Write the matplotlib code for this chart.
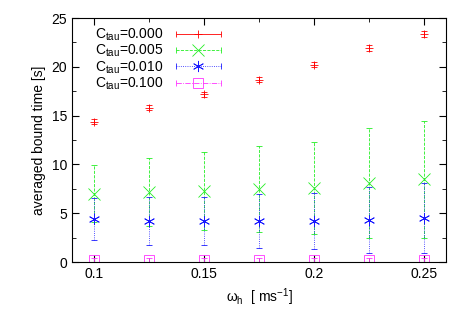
import numpy as np
import matplotlib
matplotlib.use("Agg")
from matplotlib import pyplot as plt
from matplotlib.ticker import MultipleLocator
from matplotlib.legend_handler import HandlerErrorbar

plt.rcParams['font.family'] = ['Liberation Sans', 'DejaVu Sans']
plt.rcParams['mathtext.fontset'] = 'custom'
plt.rcParams['mathtext.rm'] = 'Liberation Sans'
plt.rcParams['mathtext.it'] = 'Liberation Sans'

omega = [0.1, 0.125, 0.15, 0.175, 0.2, 0.225, 0.25]

t_000 = [14.4, 15.8, 17.2, 18.7, 20.2, 21.9, 23.4]
e_000 = [0.25, 0.25, 0.25, 0.25, 0.25, 0.3, 0.3]

t_005 = [7.0, 7.2, 7.3, 7.45, 7.6, 8.1, 8.5]
e_005 = [2.9, 3.5, 4.0, 4.4, 4.7, 5.6, 6.0]

t_010 = [4.45, 4.25, 4.25, 4.2, 4.2, 4.3, 4.5]
e_010 = [2.15, 2.45, 2.45, 2.8, 2.85, 3.35, 3.6]

t_100 = [0.2, 0.2, 0.2, 0.2, 0.2, 0.2, 0.2]
e_100 = [0.2, 0.2, 0.2, 0.2, 0.2, 0.2, 0.2]

labels = ['C$_{tau}$=0.000', 'C$_{tau}$=0.005', 'C$_{tau}$=0.010', 'C$_{tau}$=0.100']

fig = plt.figure(figsize=(4.69, 3.28), dpi=100)
ax = fig.add_axes([0.1535, 0.201, 0.7975, 0.744])

series = [
    (t_000, e_000, '#ff0000', '+', '-', 6),
    (t_005, e_005, '#22ee22', 'x', '--', 8),
    (t_010, e_010, '#1a1aff', (6, 2, 0), ':', 8),
    (t_100, e_100, '#ff33ff', 's', '-.', 7),
]
for (y, e, c, m, ls, ms), lab in zip(series, labels):
    eb = ax.errorbar(omega, y, yerr=e, fmt='none', ecolor=c, elinewidth=0.6,
                     capsize=2, capthick=0.6)
    eb[2][0].set_linestyle(ls)
    ax.plot(omega, y, linestyle='none', marker=m, color=c, markersize=ms,
            markerfacecolor='none', markeredgewidth=0.6)
    # legend entry: horizontal bar with caps, like gnuplot
    hb = ax.errorbar([np.nan], [np.nan], xerr=[1.0], marker=m, linestyle='none',
                     color=c, markersize=ms, markerfacecolor='none',
                     markeredgewidth=0.6, elinewidth=0.6, capsize=2,
                     capthick=0.6, label=lab)
    hb[2][0].set_linestyle(ls)

ax.set_xlim(0.09, 0.26)
ax.set_ylim(0, 25)
ax.xaxis.set_minor_locator(MultipleLocator(0.025))
ax.yaxis.set_major_locator(MultipleLocator(5))
ax.yaxis.set_minor_locator(MultipleLocator(2.5))
ax.set_xticks([0.1, 0.15, 0.2, 0.25])
ax.set_xticklabels(['0.1', '0.15', '0.2', '0.25'])
ax.tick_params(which='both', direction='in', top=True, right=True, labelsize=10)
ax.tick_params(which='major', length=5)
ax.tick_params(which='minor', length=3)

ax.set_ylabel('averaged bound time [s]', fontsize=10)
ax.set_xlabel('$\\omega_h$  [ ms$^{-1}$]', fontsize=10)

ax.legend(loc='upper left', frameon=False, markerfirst=False, fontsize=10,
          handlelength=3.4, handletextpad=0.8, labelspacing=0.0,
          borderaxespad=0.2, bbox_to_anchor=(0.04, 1.0),
          handler_map={type(hb): HandlerErrorbar(xerr_size=1.6)})

fig.savefig('out.png', dpi=100)
